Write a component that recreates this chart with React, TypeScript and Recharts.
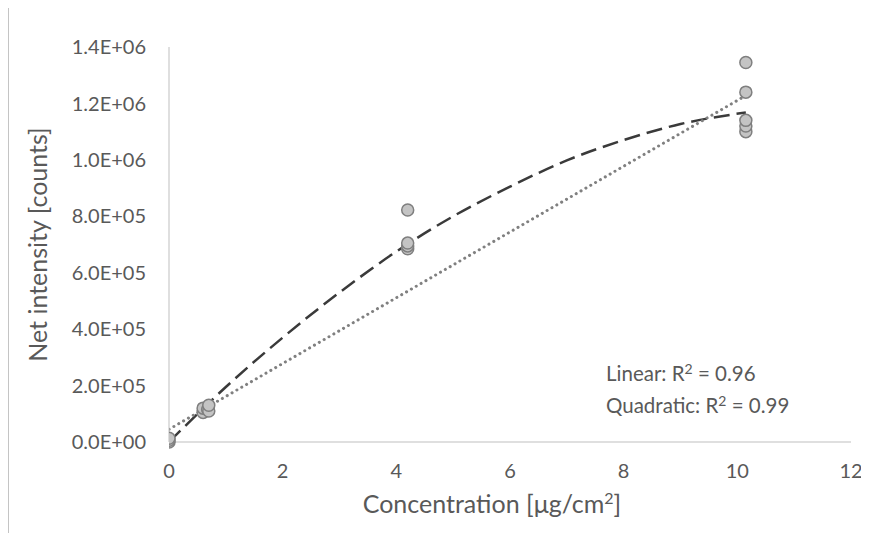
import {
  ComposedChart,
  Label,
  Line,
  Scatter,
  XAxis,
  YAxis,
} from 'recharts';

// measured points
const concentration = [0, 0, 0, 0.6, 0.6, 0.68, 0.7, 0.7, 4.2, 4.2, 4.2, 4.2, 10.15, 10.15, 10.15, 10.15, 10.15];
const intensity = [0, 6000, 13000, 105000, 120000, 115000, 110000, 130000, 685000, 695000, 705000, 822000, 1100000, 1120000, 1140000, 1240000, 1345000];

// trendlines
const quadX = [0, 1, 2, 3, 4, 5, 6, 7, 8, 9, 10.15];
const quadY = [0, 195000, 370000, 530000, 675000, 800000, 905000, 998000, 1070000, 1127000, 1168000];
const linX = [0, 10.15];
const linY = [45000, 1228000];

const xTicks = [0, 2, 4, 6, 8, 10, 12];
const yTicks = [0, 200000, 400000, 600000, 800000, 1000000, 1200000, 1400000];

const FONT = 'Lato, "Open Sans", sans-serif';
const TEXT = '#595959';

const points = concentration.map((x, i) => ({ x, y: intensity[i] }));
const quadratic = quadX.map((x, i) => ({ x, q: quadY[i] }));
const linear = linX.map((x, i) => ({ x, l: linY[i] }));

const fmtSci = (v: number) => {
  const [m, e] = v.toExponential(1).split('e');
  const n = Number(e);
  return `${m}E${n < 0 ? '-' : '+'}${String(Math.abs(n)).padStart(2, '0')}`;
};

const Dot = (p: any) => (
  <circle cx={p.cx} cy={p.cy} r={6} fill="#c4c4c4" stroke="#7f7f7f" strokeWidth={1.5} />
);

export default function App() {
  return (
    <div style={{ position: 'relative', width: 861, height: 525, fontFamily: FONT }}>
      <div
        style={{
          position: 'absolute',
          left: 0,
          top: -3,
          width: 900,
          height: 600,
          borderLeft: '1px solid #c4c4c4',
          borderTop: '1px solid #c4c4c4',
        }}
      />
      <ComposedChart width={861} height={525} margin={{ top: 39, right: 18, left: 0, bottom: 0 }}>
        <XAxis
          dataKey="x"
          type="number"
          domain={[0, 12]}
          ticks={xTicks}
          allowDataOverflow
          height={91}
          stroke="#bfbfbf"
          tickLine={false}
          tick={{ fontSize: 20, fill: TEXT, fontFamily: FONT }}
          tickMargin={16}
        >
          <Label
            content={({ viewBox }: any) => (
              <text
                x={viewBox.x + viewBox.width / 2 - 18}
                y={viewBox.y + 71}
                textAnchor="middle"
                fontSize={25}
                fill={TEXT}
                fontFamily={FONT}
              >
                Concentration [μg/cm<tspan dy={-9} fontSize={16}>2</tspan>
                <tspan dy={9}>]</tspan>
              </text>
            )}
          />
        </XAxis>
        <YAxis
          type="number"
          domain={[0, 1400000]}
          ticks={yTicks}
          width={161}
          stroke="#bfbfbf"
          tickLine={false}
          tickFormatter={fmtSci}
          tick={{ fontSize: 20, fill: TEXT, fontFamily: FONT }}
          tickMargin={17}
        >
          <Label
            content={({ viewBox }: any) => (
              <text
                x={39}
                y={viewBox.y + viewBox.height / 2}
                textAnchor="middle"
                fontSize={25}
                fill={TEXT}
                fontFamily={FONT}
                transform={`rotate(-90 39 ${viewBox.y + viewBox.height / 2})`}
              >
                Net intensity [counts]
              </text>
            )}
          />
        </YAxis>
        <Scatter data={points} dataKey="y" shape={Dot} isAnimationActive={false} />
        <Line
          data={quadratic}
          dataKey="q"
          type="monotone"
          stroke="#3a3a3a"
          strokeWidth={2.5}
          strokeDasharray="16 7"
          dot={false}
          isAnimationActive={false}
        />
        <Line
          data={linear}
          dataKey="l"
          type="linear"
          stroke="#808080"
          strokeWidth={3}
          strokeDasharray="0.1 5.5"
          strokeLinecap="round"
          dot={false}
          isAnimationActive={false}
        />
      </ComposedChart>
      <div
        style={{
          position: 'absolute',
          left: 598,
          top: 349,
          fontSize: 20.5,
          lineHeight: '32px',
          color: TEXT,
          whiteSpace: 'nowrap',
        }}
      >
        <div>
          Linear: R<sup style={{ fontSize: 14, verticalAlign: 7, lineHeight: 0 }}>2</sup> = 0.96
        </div>
        <div>
          Quadratic: R<sup style={{ fontSize: 14, verticalAlign: 7, lineHeight: 0 }}>2</sup> = 0.99
        </div>
      </div>
    </div>
  );
}
